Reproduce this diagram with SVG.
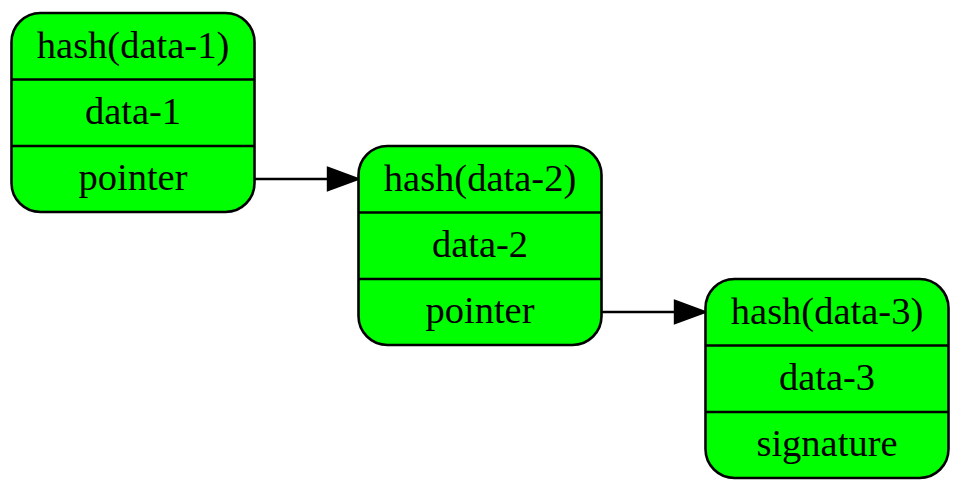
<svg xmlns="http://www.w3.org/2000/svg" width="960" height="492" viewBox="0 0 960 492">
<style>
.box{fill:#00ff00;stroke:#000;stroke-width:2.6}
.div{stroke:#000;stroke-width:2.6}
.t{font-family:"Liberation Serif","Times New Roman",serif;font-size:38.5px;text-anchor:middle;fill:#000}
.edge{stroke:#000;stroke-width:2.4;fill:none}
.head{fill:#000;stroke:#000;stroke-width:2.4}
</style>
<rect width="960" height="492" fill="#fff"/>
<g id="connectors">
<line class="edge" x1="255" y1="179" x2="330" y2="179"/>
<polygon class="head" points="328,168 358,179 328,190"/>
<line class="edge" x1="602" y1="312" x2="677" y2="312"/>
<polygon class="head" points="675,301 705,312 675,323"/>
</g>
<g id="node1">
<rect class="box" x="11.5" y="13" width="243" height="199" rx="29"/>
<line class="div" x1="11.5" y1="79.5" x2="254.5" y2="79.5"/>
<line class="div" x1="11.5" y1="146" x2="254.5" y2="146"/>
<text class="t" x="133" y="58">hash(data-1)</text>
<text class="t" x="133" y="124">data-1</text>
<text class="t" x="133" y="190">pointer</text>
</g>
<g id="node2">
<rect class="box" x="358.5" y="146" width="243" height="199" rx="29"/>
<line class="div" x1="358.5" y1="212.5" x2="601.5" y2="212.5"/>
<line class="div" x1="358.5" y1="279" x2="601.5" y2="279"/>
<text class="t" x="480" y="191">hash(data-2)</text>
<text class="t" x="480" y="257">data-2</text>
<text class="t" x="480" y="323">pointer</text>
</g>
<g id="node3">
<rect class="box" x="705.5" y="279" width="243" height="199" rx="29"/>
<line class="div" x1="705.5" y1="345.5" x2="948.5" y2="345.5"/>
<line class="div" x1="705.5" y1="412" x2="948.5" y2="412"/>
<text class="t" x="827" y="324">hash(data-3)</text>
<text class="t" x="827" y="390">data-3</text>
<text class="t" x="827" y="456">signature</text>
</g>
</svg>
